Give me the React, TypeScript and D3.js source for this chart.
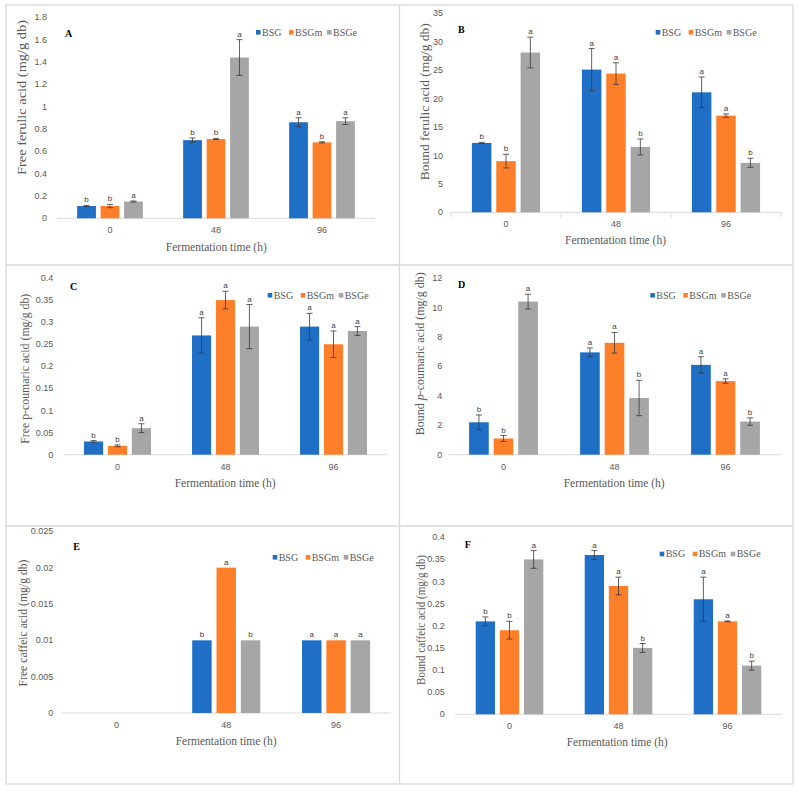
import React from "react";
import * as d3 from "d3";

const categories = ["0", "48", "96"];
const seriesNames = ["BSG", "BSGm", "BSGe"];
const seriesColors = ["#1f6fc6", "#fe7f2a", "#a6a6a6"];

// rows: BSG, BSGm, BSGe — columns: 0, 48, 96 h
const freeFerulic = [[0.11, 0.70, 0.86], [0.11, 0.71, 0.68], [0.15, 1.44, 0.87]];
const freeFerulicErr = [[0.005, 0.02, 0.04], [0.015, 0.005, 0.005], [0.005, 0.16, 0.03]];
const freeFerulicLetters = [["b", "b", "a"], ["b", "b", "b"], ["a", "a", "a"]];

const boundFerulic = [[12.2, 25.1, 21.1], [9.0, 24.4, 17.0], [28.1, 11.5, 8.7]];
const boundFerulicErr = [[0.1, 3.7, 2.7], [1.2, 1.9, 0.3], [2.7, 1.4, 0.8]];
const boundFerulicLetters = [["b", "a", "a"], ["b", "a", "a"], ["a", "b", "b"]];

const freeCoumaric = [[0.03, 0.27, 0.29], [0.02, 0.35, 0.25], [0.06, 0.29, 0.28]];
const freeCoumaricErr = [[0.002, 0.04, 0.03], [0.002, 0.02, 0.03], [0.01, 0.05, 0.01]];
const freeCoumaricLetters = [["b", "a", "a"], ["b", "a", "a"], ["a", "a", "a"]];

const boundCoumaric = [[2.2, 6.95, 6.1], [1.1, 7.6, 5.0], [10.4, 3.85, 2.25]];
const boundCoumaricErr = [[0.5, 0.3, 0.55], [0.2, 0.7, 0.15], [0.5, 1.2, 0.25]];
const boundCoumaricLetters = [["b", "a", "a"], ["b", "a", "a"], ["a", "b", "b"]];

const freeCaffeic = [[0, 0.01, 0.01], [0, 0.02, 0.01], [0, 0.01, 0.01]];
const freeCaffeicErr = [[0, 0, 0], [0, 0, 0], [0, 0, 0]];
const freeCaffeicLetters = [["", "b", "a"], ["", "a", "a"], ["", "b", "a"]];

const boundCaffeic = [[0.21, 0.36, 0.26], [0.19, 0.29, 0.21], [0.35, 0.15, 0.11]];
const boundCaffeicErr = [[0.01, 0.01, 0.05], [0.02, 0.02, 0.001], [0.02, 0.01, 0.01]];
const boundCaffeicLetters = [["b", "a", "a"], ["b", "a", "a"], ["a", "b", "b"]];

const panels = [
  {
    id: "A", values: freeFerulic, errors: freeFerulicErr, letters: freeFerulicLetters,
    yMax: 1.8, yStep: 0.2, plot: [57, 375, 17.3, 218.3], tickRight: 47,
    title: ["Free ferulic acid (mg/g db)"], yTitle: [21.7, 97.5, 155], xTitle: [216.3, 250.5],
    mark: [65, 36.5], legend: [256, 32.3], catTicks: false,
  },
  {
    id: "B", values: boundFerulic, errors: boundFerulicErr, letters: boundFerulicLetters,
    yMax: 35, yStep: 5, plot: [451, 781, 13.3, 212.3], tickRight: 443,
    title: ["Bound ferulic acid (mg/g db)"], yTitle: [424.7, 101.7, 157], xTitle: [615.5, 244],
    mark: [458, 33], legend: [655.7, 32.3], catTicks: true,
  },
  {
    id: "C", values: freeCoumaric, errors: freeCoumaricErr, letters: freeCoumaricLetters,
    yMax: 0.4, yStep: 0.05, plot: [63.5, 387.5, 278, 454.7], tickRight: 53.3,
    title: ["Free p-coumaric acid (mg/g db)"], yTitle: [25, 368.7, 150], xTitle: [225.2, 487],
    mark: [70, 290], legend: [267.7, 295.3], catTicks: false,
  },
  {
    id: "D", values: boundCoumaric, errors: boundCoumaricErr, letters: boundCoumaricLetters,
    yMax: 12, yStep: 2, plot: [448, 781, 278, 454.7], tickRight: 442.3,
    title: ["Bound ", "p", "-coumaric acid (mg/g db)"], yTitle: [419.7, 353.7, 163], xTitle: [614.2, 487],
    mark: [458, 288], legend: [650.3, 295.3], catTicks: false,
  },
  {
    id: "E", values: freeCaffeic, errors: freeCaffeicErr, letters: freeCaffeicLetters,
    yMax: 0.025, yStep: 0.005, plot: [61.5, 391, 531.3, 713], tickRight: 53.3,
    title: ["Free caffeic acid (mg/g db)"], yTitle: [23.3, 623, 127], xTitle: [226.2, 745],
    mark: [73.3, 550], legend: [272.7, 557.3], catTicks: false,
  },
  {
    id: "F", values: boundCaffeic, errors: boundCaffeicErr, letters: boundCaffeicLetters,
    yMax: 0.4, yStep: 0.05, plot: [455, 782, 537.3, 714.3], tickRight: 444.7,
    title: ["Bound caffeic acid (mg/g db)"], yTitle: [421.3, 620, 130], xTitle: [617.2, 746],
    mark: [464.7, 548.3], legend: [659.7, 554], catTicks: false,
  },
];

const legendOffsets = [0, 33, 71];
const serif = "'Liberation Serif', 'Times New Roman', serif";
const sans = "'Liberation Sans', Arial, sans-serif";
const grey = "#595959";

function Panel({ p }) {
  const [x0, x1, yTop, yBottom] = p.plot;
  const x = d3.scaleBand().domain(categories).range([x0, x1]).paddingInner(0.38).paddingOuter(0.19);
  const inner = d3.scaleBand().domain(seriesNames).range([0, x.bandwidth()]).paddingInner(0.2);
  const y = d3.scaleLinear().domain([0, p.yMax]).range([yBottom, yTop]);
  const nTicks = Math.round(p.yMax / p.yStep);
  const ticks = d3.range(nTicks + 1).map((i) => +(i * p.yStep).toFixed(4));

  return (
    <g>
      {ticks.map((t) => (
        <text key={t} x={p.tickRight} y={y(t)} dy="0.34em" textAnchor="end"
          fontFamily={sans} fontSize={9} fill={grey}>{String(t)}</text>
      ))}
      <line x1={x0} x2={x1} y1={yBottom} y2={yBottom} stroke="#d9d9d9" strokeWidth={1} />
      {p.catTicks && d3.range(categories.length + 1).map((i) => {
        const tx = x0 + (i * (x1 - x0)) / categories.length;
        return <line key={i} x1={tx} x2={tx} y1={yBottom} y2={yBottom + 5} stroke="#d9d9d9" />;
      })}
      {categories.map((c) => (
        <text key={c} x={x(c) + x.bandwidth() / 2} y={yBottom + 15} textAnchor="middle"
          fontFamily={sans} fontSize={9} fill={grey}>{c}</text>
      ))}
      {seriesNames.map((s, si) =>
        categories.map((c, ci) => {
          const v = p.values[si][ci];
          const e = p.errors[si][ci];
          const bx = x(c) + inner(s);
          const bw = inner.bandwidth();
          const cx = bx + bw / 2;
          const top = y(v + e);
          return (
            <g key={s + c}>
              {v > 0 && <rect x={bx} y={y(v)} width={bw} height={yBottom - y(v)} fill={seriesColors[si]} />}
              {e > 0 && (
                <g stroke="#3a3a3a" strokeWidth={0.8}>
                  <line x1={cx} x2={cx} y1={y(v + e)} y2={y(v - e)} />
                  <line x1={cx - 3} x2={cx + 3} y1={y(v + e)} y2={y(v + e)} />
                  <line x1={cx - 3} x2={cx + 3} y1={y(v - e)} y2={y(v - e)} />
                </g>
              )}
              {p.letters[si][ci] && (
                <text x={cx} y={top - 3} textAnchor="middle" fontFamily={sans} fontSize={8}
                  fill="#404040">{p.letters[si][ci]}</text>
              )}
            </g>
          );
        })
      )}
      <text x={p.mark[0]} y={p.mark[1]} fontFamily={serif} fontSize={10} fontWeight="bold"
        fill="#000">{p.id}</text>
      {seriesNames.map((s, si) => {
        const lx = p.legend[0] + legendOffsets[si];
        return (
          <g key={s}>
            <rect x={lx} y={p.legend[1] - 2.3} width={4.6} height={4.6} fill={seriesColors[si]} />
            <text x={lx + 6} y={p.legend[1]} dy="0.34em" fontFamily={serif} fontSize={10}
              fill={grey}>{s}</text>
          </g>
        );
      })}
      <text transform={`translate(${p.yTitle[0]},${p.yTitle[1]}) rotate(-90)`} textAnchor="middle"
        dominantBaseline="central" fontFamily={serif} fontSize={12} fill={grey}
        textLength={p.yTitle[2]} lengthAdjust="spacingAndGlyphs">
        {p.title.map((t, i) => (
          <tspan key={i} fontStyle={p.title.length > 1 && i === 1 ? "italic" : "normal"}>{t}</tspan>
        ))}
      </text>
      <text x={p.xTitle[0]} y={p.xTitle[1]} textAnchor="middle" fontFamily={serif} fontSize={12}
        fill={grey} textLength={101} lengthAdjust="spacingAndGlyphs">Fermentation time (h)</text>
    </g>
  );
}

export default function App() {
  return (
    <div style={{ position: "absolute", left: 0, top: 0 }}>
      <svg width={798} height={792} style={{ display: "block", background: "#fff" }}>
        <g fill="none" stroke="#d9d9d9" strokeWidth={1.3}>
          <rect x={6} y={5} width={787} height={779} />
          <line x1={399.5} x2={399.5} y1={5} y2={784} />
          <line x1={6} x2={793} y1={265} y2={265} />
          <line x1={6} x2={793} y1={526} y2={526} />
        </g>
        {panels.map((p) => <Panel key={p.id} p={p} />)}
      </svg>
    </div>
  );
}
